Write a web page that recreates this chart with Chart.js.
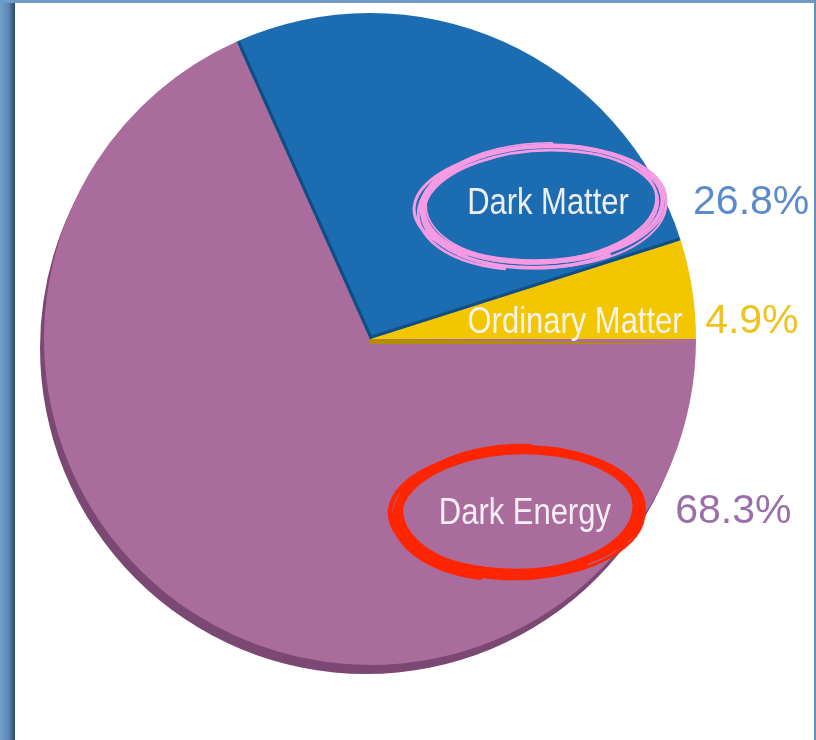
<!DOCTYPE html>
<html>
<head>
<meta charset="utf-8">
<script src="https://cdn.jsdelivr.net/npm/chart.js@4.4.0/dist/chart.umd.min.js"></script>
<style>
  html, body { margin: 0; padding: 0; background: #fff; }
  #wrap { position: relative; width: 816px; height: 740px; overflow: hidden; }
  #wrap canvas { position: absolute; left: 0; top: 0; }
  .edge { position: absolute; z-index: 2; }
  #edgeLeft { left: 0; top: 0; width: 15px; height: 740px;
    background: linear-gradient(to right, #739fcb 0%, #5d88b5 55%, #2b4968 100%); }
  #edgeTop { left: 0; top: 0; width: 816px; height: 3px; background: #6f9bc8; }
  #edgeRight { left: 814px; top: 0; width: 2px; height: 740px; background: #6390bf; }
</style>
</head>
<body>
<div id="wrap">
  <canvas id="myChart" width="816" height="740"></canvas>
  <div class="edge" id="edgeLeft"></div>
  <div class="edge" id="edgeTop"></div>
  <div class="edge" id="edgeRight"></div>
</div>
<script>
// composition of the universe
var categories = ['Dark Energy', 'Dark Matter', 'Ordinary Matter'];
var shares = [68.3, 26.8, 4.9];
var percentLabels = ['68.3%', '26.8%', '4.9%'];

var fillColors = ['#a96c9d', '#1b6cb0', '#f2c600'];
var sideColors = ['#7b4874', '#0f4d85', '#b28f00'];
var percentColors = ['#9a6fa9', '#5b8bcc', '#f0c21e'];

// label spots, in units of the pie radius from its centre
var nameSpots = [[0.475, 0.537], [0.546, -0.414], [0.629, -0.049]];
var percentSpots = [[0.936, 0.531], [0.991, -0.417], [1.028, -0.052]];
// hand-drawn rings around two of the names: [colour, rx, ry, dx, dy, tilt, width]
var rings = {
  0: ['#ff2500', 121, 62, -6, -3, -0.03, 3.2],
  1: ['#f79ae4', 120, 58, -6, 1, -0.05, 2.2]
};
// wobbles so the rings look drawn with a brush: [dx, dy, drx, dry, dtilt, start, sweep, width]
var wobble = [
  [0, 0, 0, 0, 0.00, 0.2, 6.6, 1.3],
  [1.5, -1, 3, 1, 0.01, 1.4, 6.4, 1.0],
  [-1, 1.5, -3, -2, -0.01, 2.6, 6.5, 1.2],
  [0.5, 2, 4, 3, 0.015, 3.7, 5.0, 0.9],
  [-1.5, -1.5, -4, 0, -0.012, 4.9, 6.0, 1.1],
  [1, 0.5, 1, -3.5, 0.006, 5.8, 4.8, 1.0],
  [-2, 2.5, 2, 4, -0.02, 1.9, 3.2, 1.3],
  [2, -2, -2, 2, 0.02, 0.7, 4.1, 0.8],
  [0, 3, 0, 1.5, 0.0, 1.0, 2.6, 1.6],
  [-3, 0, 5, -1, 0.008, 2.2, 2.0, 1.4]
];

function pieGeom(chart) {
  var arc = chart.getDatasetMeta(0).data[0];
  return { x: arc.x, y: arc.y, r: arc.outerRadius };
}

var depthPlugin = {
  id: 'depth',
  beforeDatasetsDraw: function (chart) {
    var ctx = chart.ctx;
    var arcs = chart.getDatasetMeta(0).data;
    ctx.save();
    arcs.forEach(function (a) {
      ctx.beginPath();
      ctx.moveTo(a.x - 4, a.y + 9);
      ctx.arc(a.x - 4, a.y + 9, a.outerRadius, a.startAngle, a.endAngle);
      ctx.closePath();
      ctx.fillStyle = sideColors[0];
      ctx.fill();
    });
    ctx.restore();
  },
  afterDatasetsDraw: function (chart) {
    var ctx = chart.ctx;
    var arcs = chart.getDatasetMeta(0).data;
    var g = pieGeom(chart);
    ctx.save();
    // raised edge under the ordinary matter slice
    var om = arcs[2];
    ctx.beginPath();
    ctx.moveTo(g.x, g.y);
    ctx.arc(g.x, g.y + 5, g.r, om.endAngle - 0.0001, om.endAngle, false);
    ctx.lineTo(g.x, g.y + 5);
    ctx.closePath();
    ctx.fillStyle = sideColors[2];
    ctx.fill();
    // darker seams along the dark matter slice
    var dm = arcs[1];
    ctx.strokeStyle = sideColors[1];
    ctx.lineWidth = 3;
    [dm.startAngle, dm.endAngle].forEach(function (ang, k) {
      var n = k === 0 ? 1.5 : -1.5;
      var ox = -Math.sin(ang) * n, oy = Math.cos(ang) * n;
      ctx.beginPath();
      ctx.moveTo(g.x + ox, g.y + oy);
      ctx.lineTo(g.x + Math.cos(ang) * (g.r - 1) + ox, g.y + Math.sin(ang) * (g.r - 1) + oy);
      ctx.stroke();
    });
    ctx.restore();
  }
};

var labelPlugin = {
  id: 'sliceLabels',
  afterDraw: function (chart) {
    var ctx = chart.ctx;
    var g = pieGeom(chart);
    ctx.save();
    categories.forEach(function (name, i) {
      var nx = g.x + nameSpots[i][0] * g.r;
      var ny = g.y + nameSpots[i][1] * g.r;
      var ring = rings[i];
      if (ring) {
        ctx.strokeStyle = ring[0];
        ctx.lineCap = 'round';
        wobble.forEach(function (w) {
          ctx.lineWidth = ring[6] * w[7];
          ctx.beginPath();
          ctx.ellipse(nx + ring[3] + w[0], ny + ring[4] + w[1],
            ring[1] + w[2], ring[2] + w[3], ring[5] + w[4], w[5], w[5] + w[6]);
          ctx.stroke();
        });
      }
      // names are set in a narrowed face
      ctx.save();
      ctx.translate(nx, ny);
      ctx.scale(0.86, 1);
      ctx.fillStyle = 'rgba(250,246,250,0.95)';
      ctx.font = '36px "Liberation Sans", Arial, sans-serif';
      ctx.textAlign = 'center';
      ctx.textBaseline = 'middle';
      ctx.fillText(name, 0, 0);
      ctx.restore();

      ctx.fillStyle = percentColors[i];
      ctx.font = '41px "Liberation Sans", Arial, sans-serif';
      ctx.textAlign = 'left';
      ctx.textBaseline = 'middle';
      ctx.fillText(percentLabels[i], g.x + percentSpots[i][0] * g.r, g.y + percentSpots[i][1] * g.r);
    });
    ctx.restore();
  }
};

var ctx = document.getElementById('myChart').getContext('2d');
var chart = new Chart(ctx, {
  type: 'pie',
  data: {
    labels: categories,
    datasets: [{
      data: shares,
      backgroundColor: fillColors,
      borderWidth: 0,
      hoverOffset: 0
    }]
  },
  options: {
    responsive: false,
    animation: false,
    events: [],
    rotation: 90,
    layout: { padding: { left: 44, top: 13, right: 120, bottom: 75 } },
    plugins: {
      legend: { display: false },
      tooltip: { enabled: false }
    }
  },
  plugins: [depthPlugin, labelPlugin]
});
</script>
</body>
</html>
